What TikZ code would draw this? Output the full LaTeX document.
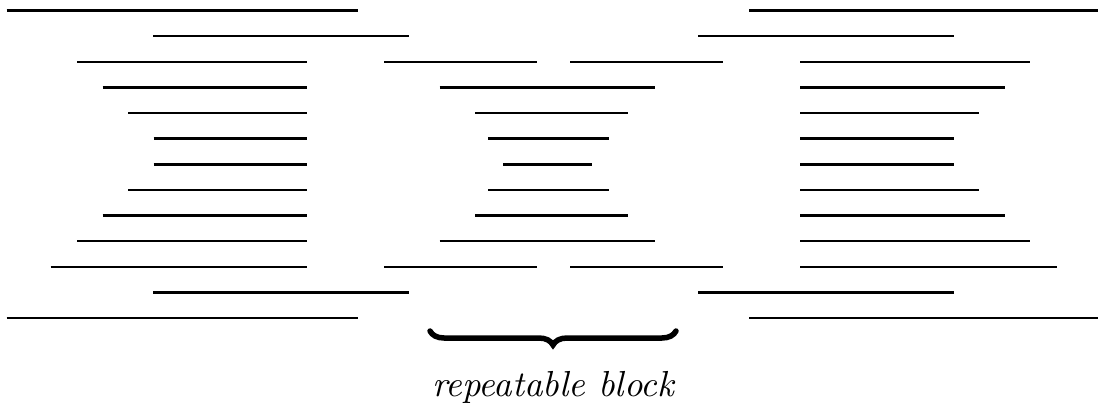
\documentclass[tikz,border=0pt]{standalone}
\usetikzlibrary{decorations.pathreplacing}
\begin{document}
\begin{tikzpicture}[x=1pt,y=-1pt,
  bar/.style={line width=2.4pt},
  bracemark/.style={line width=5.5pt,line cap=round,
    decorate,decoration={brace,mirror,amplitude=14pt}},
  caption/.style={font=\fontsize{10}{12}\selectfont\itshape,inner sep=0pt,
    anchor=base,scale=3.62,transform shape}]
\useasboundingbox (0,0) rectangle (1098,408);
% left column
\foreach \y/\a/\b in {10.3/6.7/357.7, 36/153.3/409.3, 61.7/77/306.7, 87.3/102.7/306.7,
  113/128.3/306.7, 138.3/153.7/306.7, 164.3/153.7/306.7, 190/128.3/306.7,
  215.3/102.7/306.7, 241/77/306.7, 266.7/50.7/306.7, 292.3/153.3/409.3, 317.7/6.7/357.7}
  \draw[bar] (\a,\y) -- (\b,\y);
% middle block
\foreach \y/\a/\b in {61.7/384.3/537.3, 61.7/570/722.7, 87.3/439.7/654.7, 113/475.3/628,
  138.3/488/608.7, 164.3/503/591.7, 190/488/608.7, 215.3/475.3/628,
  241/439.7/654.7, 266.7/384.3/537.3, 266.7/570/722.7}
  \draw[bar] (\a,\y) -- (\b,\y);
% right column
\foreach \y/\a/\b in {10.3/749/1098, 36/698/954, 61.7/800.3/1030, 87.3/800.3/1004.7,
  113/800.3/979, 138.3/800.3/953.7, 164.3/800.3/953.7, 190/800.3/979,
  215.3/800.3/1004.7, 241/800.3/1030, 266.7/800.3/1056.7, 292.3/698/954, 317.7/749/1098}
  \draw[bar] (\a,\y) -- (\b,\y);
% brace under the middle block and its caption
\coordinate (bl) at (430,331);
\coordinate (br) at (676,331);
\draw[bracemark] (bl) -- (br);
\node[caption] (cap) at (553,396.7) {repeatable block};
\end{tikzpicture}
\end{document}
